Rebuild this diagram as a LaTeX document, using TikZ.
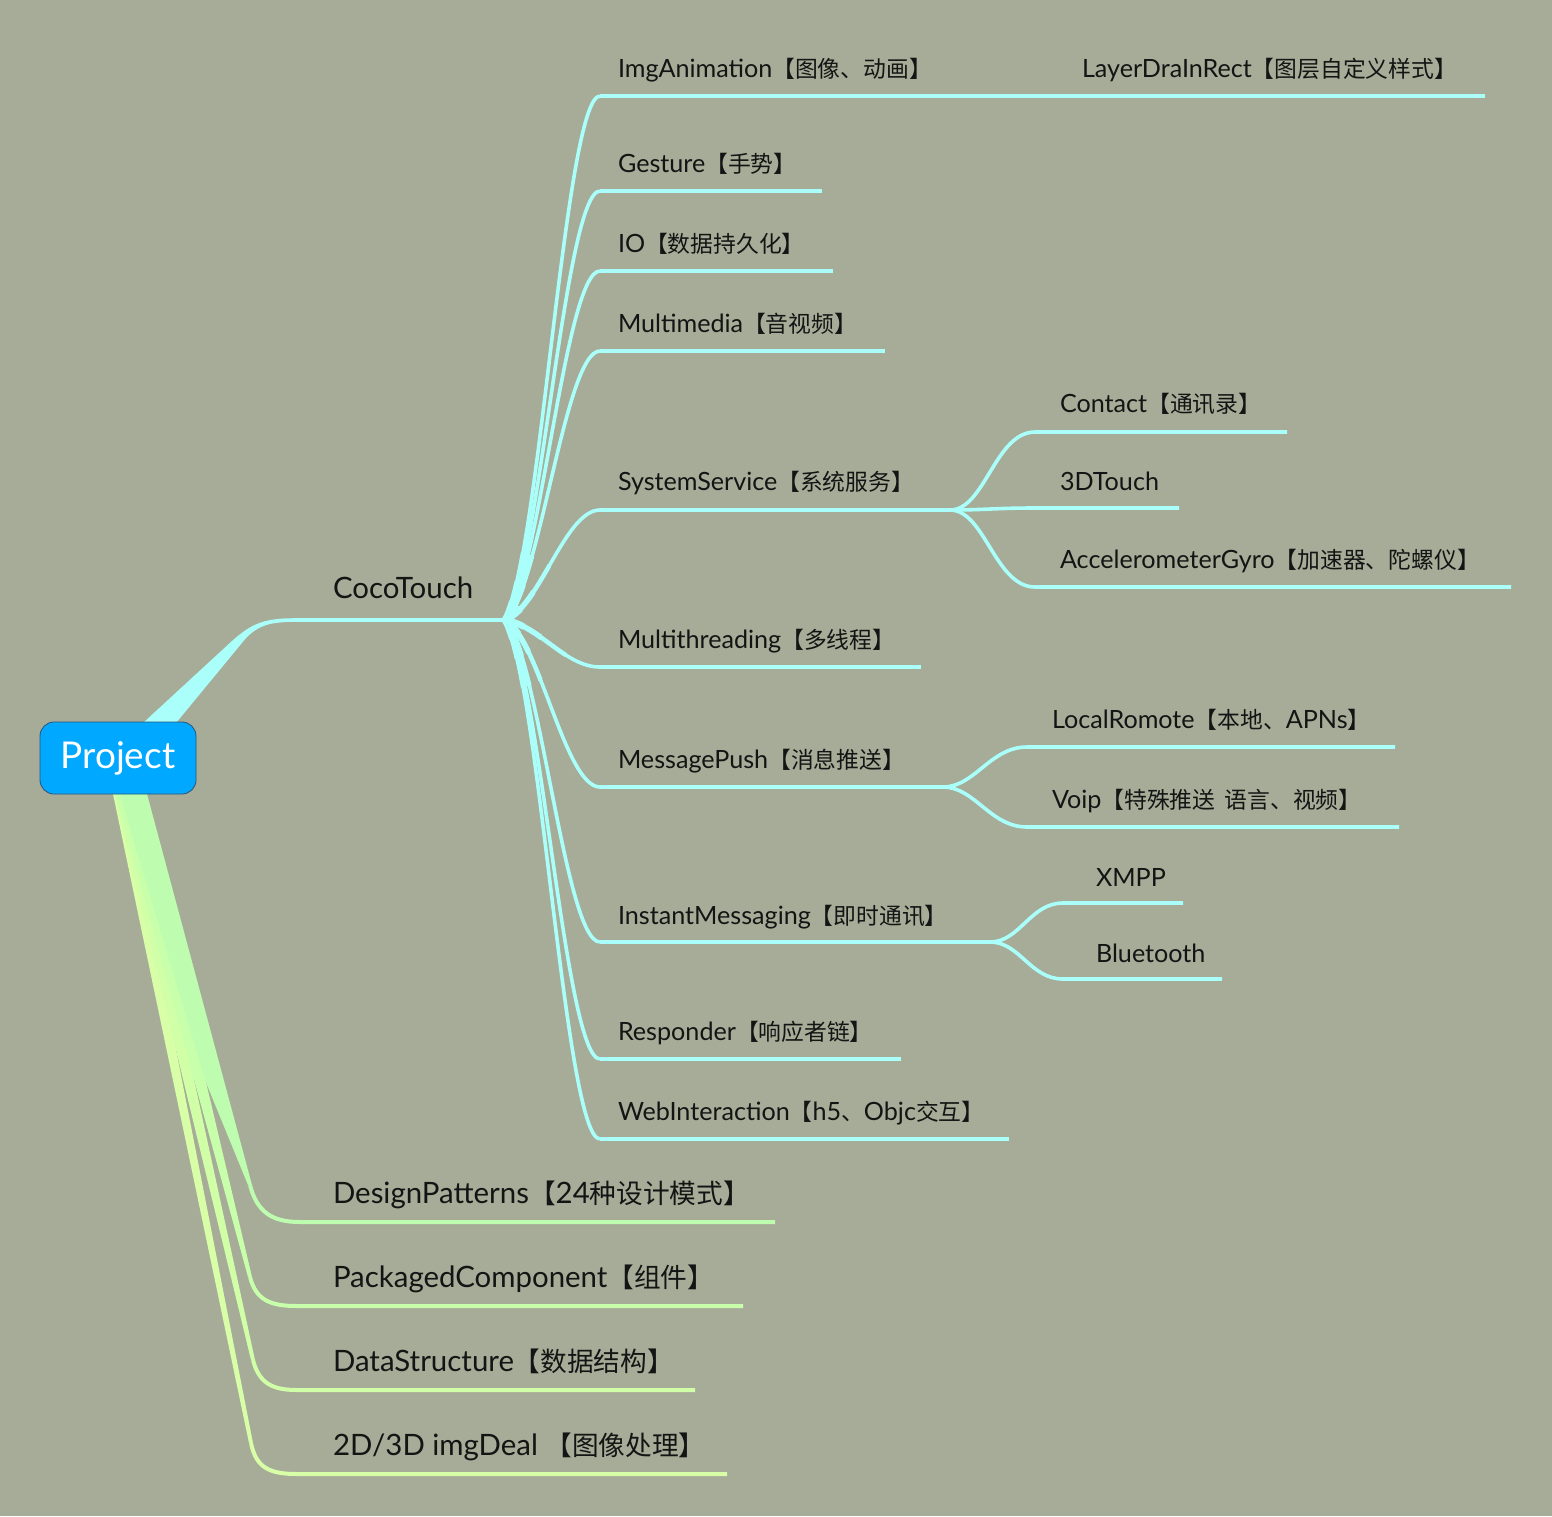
\documentclass[tikz,border=0pt]{standalone}
\usepackage{fontspec}
\setmainfont{Lato}[Scale=1.07]
\newfontfamily\cjk{Noto Sans CJK SC}[Scale=0.97]
\newcommand{\zh}[1]{{\cjk #1}}
\definecolor{bgc}{RGB}{166,172,151}
\definecolor{cyanl}{RGB}{170,255,250}
\definecolor{txt}{RGB}{20,20,20}
\definecolor{projfill}{RGB}{0,168,255}
\definecolor{projdraw}{RGB}{40,85,120}
\definecolor{gDesign}{RGB}{190,253,175}
\definecolor{gPack}{RGB}{200,255,170}
\definecolor{gData}{RGB}{208,255,168}
\definecolor{gImg}{RGB}{216,255,168}
\tikzset{
  lbl/.style={anchor=base west, inner sep=0pt, outer sep=0pt, text=txt, font=\fontsize{23.5}{28}\selectfont},
  lblA/.style={lbl, font=\fontsize{27.5}{33}\selectfont},
  cl/.style={draw=cyanl, line width=3.6pt},
  gl/.style={line width=4pt},
  projbox/.style={draw=projdraw, line width=0.8pt, fill=projfill, rounded corners=14pt,
    minimum width=156pt, minimum height=72pt, text=white, inner sep=0pt,
    font=\fontsize{34.5}{40}\selectfont}
}
\begin{document}
\begin{tikzpicture}[x=1pt,y=-1pt]
\fill[bgc] (0,0) rectangle (1552,1516);
\useasboundingbox (0,0) rectangle (1552,1516);

% ---------- coordinates ----------
\coordinate (coco-s) at (295,620);
\coordinate (coco-hub) at (505,620);

\coordinate (img-s) at (600,96);   \coordinate (img-e) at (1060,96);
\coordinate (layer-e) at (1485,96);
\coordinate (ges-s) at (600,191);  \coordinate (ges-e) at (822,191);
\coordinate (io-s) at (600,271);   \coordinate (io-e) at (833,271);
\coordinate (mm-s) at (600,351);   \coordinate (mm-e) at (885,351);
\coordinate (sys-s) at (600,510);  \coordinate (sys-e) at (950,510);
\coordinate (con-s) at (1035,432); \coordinate (con-e) at (1287,432);
\coordinate (td-s) at (1035,508);  \coordinate (td-e) at (1179,508);
\coordinate (acc-s) at (1035,587); \coordinate (acc-e) at (1511,587);
\coordinate (mt-s) at (600,667);   \coordinate (mt-e) at (921,667);
\coordinate (mp-s) at (600,787);   \coordinate (mp-e) at (943,787);
\coordinate (loc-s) at (1027,747); \coordinate (loc-e) at (1395,747);
\coordinate (voip-s) at (1027,827);\coordinate (voip-e) at (1399,827);
\coordinate (im-s) at (600,942);   \coordinate (im-e) at (990,942);
\coordinate (xmpp-s) at (1063,903);\coordinate (xmpp-e) at (1183,903);
\coordinate (bt-s) at (1063,979);  \coordinate (bt-e) at (1222,979);
\coordinate (rsp-s) at (600,1059); \coordinate (rsp-e) at (901,1059);
\coordinate (web-s) at (600,1139); \coordinate (web-e) at (1009,1139);

\coordinate (dp-b) at (250,1185);  \coordinate (dp-s) at (300,1222); \coordinate (dp-e) at (775,1222);
\coordinate (pc-b) at (250,1277);  \coordinate (pc-s) at (297,1306); \coordinate (pc-e) at (743,1306);
\coordinate (ds-b) at (253,1360);  \coordinate (ds-s) at (297,1390); \coordinate (ds-e) at (695,1390);
\coordinate (id-b) at (251,1443);  \coordinate (id-s) at (297,1474); \coordinate (id-e) at (727,1474);

% ---------- green branches (Project -> level 1) ----------
\fill[gImg] (113,794) -- (249,1443) -- (253,1443) -- (126,794) -- cycle;
\draw[gl, draw=gImg] (id-b) .. controls (256,1468) and (270,1474) .. (id-s) -- (id-e);
\fill[gData] (114,794) -- (251,1360) -- (255,1360) -- (132,794) -- cycle;
\draw[gl, draw=gData] (ds-b) .. controls (259,1383) and (272,1390) .. (ds-s) -- (ds-e);
\fill[gPack] (116,794) -- (248,1277) -- (252,1277) -- (138,794) -- cycle;
\draw[gl, draw=gPack] (pc-b) .. controls (256,1300) and (270,1306) .. (pc-s) -- (pc-e);
\fill[gDesign] (120,794) -- (205,1080) -- (248,1185) -- (252,1185) -- (147,794) -- cycle;
\draw[gl, draw=gDesign] (dp-b) .. controls (257,1212) and (272,1222) .. (dp-s) -- (dp-e);

% ---------- cyan branch Project -> CocoTouch ----------
\fill[cyanl] (143,723) -- (232,641) .. controls (252,623) and (265,618.2) .. (295,618.2)
  -- (295,621.8) .. controls (268,622) and (258,626) .. (246,638) -- (176,723) -- cycle;
\draw[cl] (coco-s) -- (coco-hub);

% ---------- CocoTouch children ----------
\newcommand{\cocokidpaths}[1]{%
\draw[#1] (coco-hub) .. controls (540,557) and (565,96) .. (img-s);
\draw[#1] (coco-hub) .. controls (540,568) and (565,191) .. (ges-s);
\draw[#1] (coco-hub) .. controls (540,578) and (565,271) .. (io-s);
\draw[#1] (coco-hub) .. controls (540,588) and (565,351) .. (mm-s);
\draw[#1] (coco-hub) .. controls (540,607) and (565,510) .. (sys-s);
\draw[#1] (coco-hub) .. controls (540,626) and (565,667) .. (mt-s);
\draw[#1] (coco-hub) .. controls (540,640) and (565,787) .. (mp-s);
\draw[#1] (coco-hub) .. controls (540,659) and (565,942) .. (im-s);
\draw[#1] (coco-hub) .. controls (540,670) and (565,1059) .. (rsp-s);
\draw[#1] (coco-hub) .. controls (540,682) and (565,1139) .. (web-s);}
\cocokidpaths{cl}
% thicker roots near the hub (tapering)
\begin{scope}
  \clip (coco-hub) circle (70);
  \cocokidpaths{cl, line width=4.4pt}
\end{scope}
\begin{scope}
  \clip (coco-hub) circle (40);
  \cocokidpaths{cl, line width=5.4pt}
\end{scope}
\begin{scope}
  \clip (coco-hub) circle (20);
  \cocokidpaths{cl, line width=6.4pt}
\end{scope}
\draw[cl] (img-s) -- (img-e) -- (layer-e);
\draw[cl] (ges-s) -- (ges-e);
\draw[cl] (io-s) -- (io-e);
\draw[cl] (mm-s) -- (mm-e);
\draw[cl] (sys-s) -- (sys-e);
\draw[cl] (mt-s) -- (mt-e);
\draw[cl] (mp-s) -- (mp-e);
\draw[cl] (im-s) -- (im-e);
\draw[cl] (rsp-s) -- (rsp-e);
\draw[cl] (web-s) -- (web-e);

% SystemService children
\draw[cl] (sys-e) .. controls (985,510) and (995,432) .. (con-s) -- (con-e);
\draw[cl] (sys-e) .. controls (985,510) and (995,508) .. (td-s) -- (td-e);
\draw[cl] (sys-e) .. controls (985,510) and (995,587) .. (acc-s) -- (acc-e);
% MessagePush children
\draw[cl] (mp-e) .. controls (975,787) and (990,747) .. (loc-s) -- (loc-e);
\draw[cl] (mp-e) .. controls (975,787) and (990,827) .. (voip-s) -- (voip-e);
% InstantMessaging children
\draw[cl] (im-e) .. controls (1020,942) and (1030,903) .. (xmpp-s) -- (xmpp-e);
\draw[cl] (im-e) .. controls (1020,942) and (1030,979) .. (bt-s) -- (bt-e);

% ---------- labels ----------
\node[lblA] (coco) at (333,598) {CocoTouch};
\node[lblA] (dp) at (333,1203) {DesignPatterns\zh{【}24\zh{种设计模式】}};
\node[lblA] (pc) at (333,1287) {PackagedComponent\zh{【组件】}};
\node[lblA] (ds) at (333,1371) {DataStructure\zh{【数据结构】}};
\node[lblA] (id) at (333,1455) {2D/3D imgDeal \zh{【图像处理】}};

\node[lbl] (img) at (618,77) {ImgAnimation\zh{【图像、动画】}};
\node[lbl] (layer) at (1082,77) {LayerDraInRect\zh{【图层自定义样式】}};
\node[lbl] (ges) at (618,172) {Gesture\zh{【手势】}};
\node[lbl] (io) at (618,252) {IO\zh{【数据持久化】}};
\node[lbl] (mm) at (618,332) {Multimedia\zh{【音视频】}};
\node[lbl] (sys) at (618,490) {SystemService\zh{【系统服务】}};
\node[lbl] (con) at (1060,412) {Contact\zh{【通讯录】}};
\node[lbl] (td) at (1060,490) {3DTouch};
\node[lbl] (acc) at (1060,568) {AccelerometerGyro\zh{【加速器、陀螺仪】}};
\node[lbl] (mt) at (618,648) {Multithreading\zh{【多线程】}};
\node[lbl] (mp) at (618,768) {MessagePush\zh{【消息推送】}};
\node[lbl] (loc) at (1052,728) {LocalRomote\zh{【本地、}APNs\zh{】}};
\node[lbl] (voip) at (1052,808) {Voip\zh{【特殊推送\hspace{0.4em}语言、视频】}};
\node[lbl] (im) at (618,924) {InstantMessaging\zh{【即时通讯】}};
\node[lbl] (xmpp) at (1096,886) {XMPP};
\node[lbl] (bt) at (1096,962) {Bluetooth};
\node[lbl] (rsp) at (618,1040) {Responder\zh{【响应者链】}};
\node[lbl] (web) at (618,1120) {WebInteraction\zh{【}h5\zh{、}Objc\zh{交互】}};

% ---------- root ----------
\node[projbox] (proj) at (118,758) {Project};
\end{tikzpicture}
\end{document}
